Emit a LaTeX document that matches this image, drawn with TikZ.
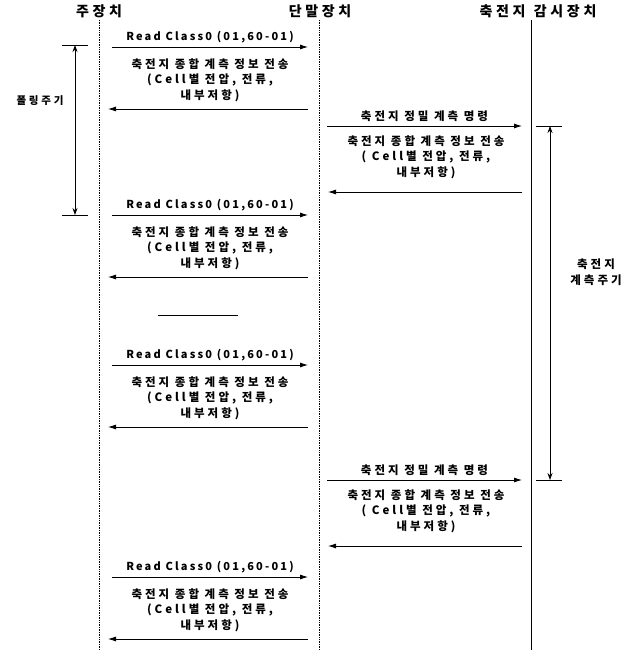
\documentclass[tikz,border=0pt]{standalone}
\usepackage{fontspec}
\setmainfont{Noto Sans CJK KR}[LetterSpace=26]
\newfontfamily\latfont{Noto Sans CJK KR}[LetterSpace=20]
\usetikzlibrary{arrows.meta, positioning}

\tikzset{
  head/.style={font=\fontsize{14}{16}\selectfont\bfseries, inner sep=1pt},
  msgtext/.style={font=\fontsize{11.5}{15.5}\selectfont\bfseries, align=center, inner sep=1pt},
  rdtext/.style={font=\latfont\fontsize{11}{13}\selectfont\bfseries, inner sep=1pt},
  life/.style={line width=0.7pt, densely dotted},
  msg/.style={line width=0.8pt, -{Latex[length=8pt,width=5pt]}},
  period/.style={line width=0.8pt, {Stealth[length=7pt,width=5pt]}-{Stealth[length=7pt,width=5pt]}},
  tick/.style={line width=0.8pt}
}

\begin{document}
\begin{tikzpicture}[x=1pt,y=-1pt]
\useasboundingbox (0,0) rectangle (629,650);

% Headers and lifelines
\node[head] (mainhd) at (99,11) {주장치};
\node[head] (termhd) at (320,11) {단말장치};
\node[head] (monhd) at (538,11) {축전지\hspace{0.6em}감시장치};
\coordinate (mainTop) at (99,20);
\coordinate (mainBot) at (99,650);
\coordinate (termTop) at (319,20);
\coordinate (termBot) at (319,650);
\coordinate (monTop) at (531,20);
\coordinate (monBot) at (531,650);
\draw[life] (mainTop) -- (mainBot);
\draw[life] (termTop) -- (termBot);
\draw[line width=0.8pt] (monTop) -- (monBot);

% Polling: main -> terminal and back
\foreach \y [count=\i] in {47,215,365,577}{
  \coordinate (rdA\i) at (112,\y);
  \coordinate (rdB\i) at (308,\y);
  \coordinate (rsA\i) at (308,\y+62);
  \coordinate (rsB\i) at (108,\y+62);
  \draw[msg] (rdA\i) -- (rdB\i)
    node[rdtext,midway,above=3pt] {Read Class0 (01,60-01)};
  \node[msgtext] (rsT\i) at (210,\y+33) {축전지 종합 계측 정보 전송\\(Cell별 전압, 전류,\\내부저항)};
  \draw[msg] (rsA\i) -- (rsB\i);
}

% Precision measurement: terminal -> battery monitor and back
\foreach \y [count=\i] in {126,480}{
  \coordinate (pcA\i) at (327,\y);
  \coordinate (pcB\i) at (522,\y);
  \coordinate (pbA\i) at (522,\y+66);
  \coordinate (pbB\i) at (328,\y+66);
  \draw[msg] (pcA\i) -- (pcB\i)
    node[msgtext,midway,above=3pt] {축전지 정밀 계측 명령};
  \node[msgtext] (pbT\i) at (426,\y+31) {축전지 종합 계측 정보 전송\\( Cell별 전압, 전류,\\내부저항)};
  \draw[msg] (pbA\i) -- (pbB\i);
}

% Separator
\coordinate (sepL) at (158,315);
\coordinate (sepR) at (238,315);
\draw[line width=0.7pt] (sepL) -- (sepR);

% Polling period
\coordinate (polTop) at (75,45);
\coordinate (polBot) at (75,215);
\draw[tick] (62,45) -- (88,45);
\draw[tick] (62,215) -- (88,215);
\draw[period] (polTop) -- (polBot);
\node[msgtext,font=\fontsize{10.5}{13}\selectfont\bfseries] (pollbl) at (40,101) {폴링주기};

% Battery measurement period
\coordinate (batTop) at (550,126);
\coordinate (batBot) at (550,480);
\draw[tick] (536,126) -- (562,126);
\draw[tick] (536,480) -- (562,480);
\draw[period] (batTop) -- (batBot);
\node[msgtext] (batlbl) at (596,272) {축전지\\계측주기};
\end{tikzpicture}
\end{document}
